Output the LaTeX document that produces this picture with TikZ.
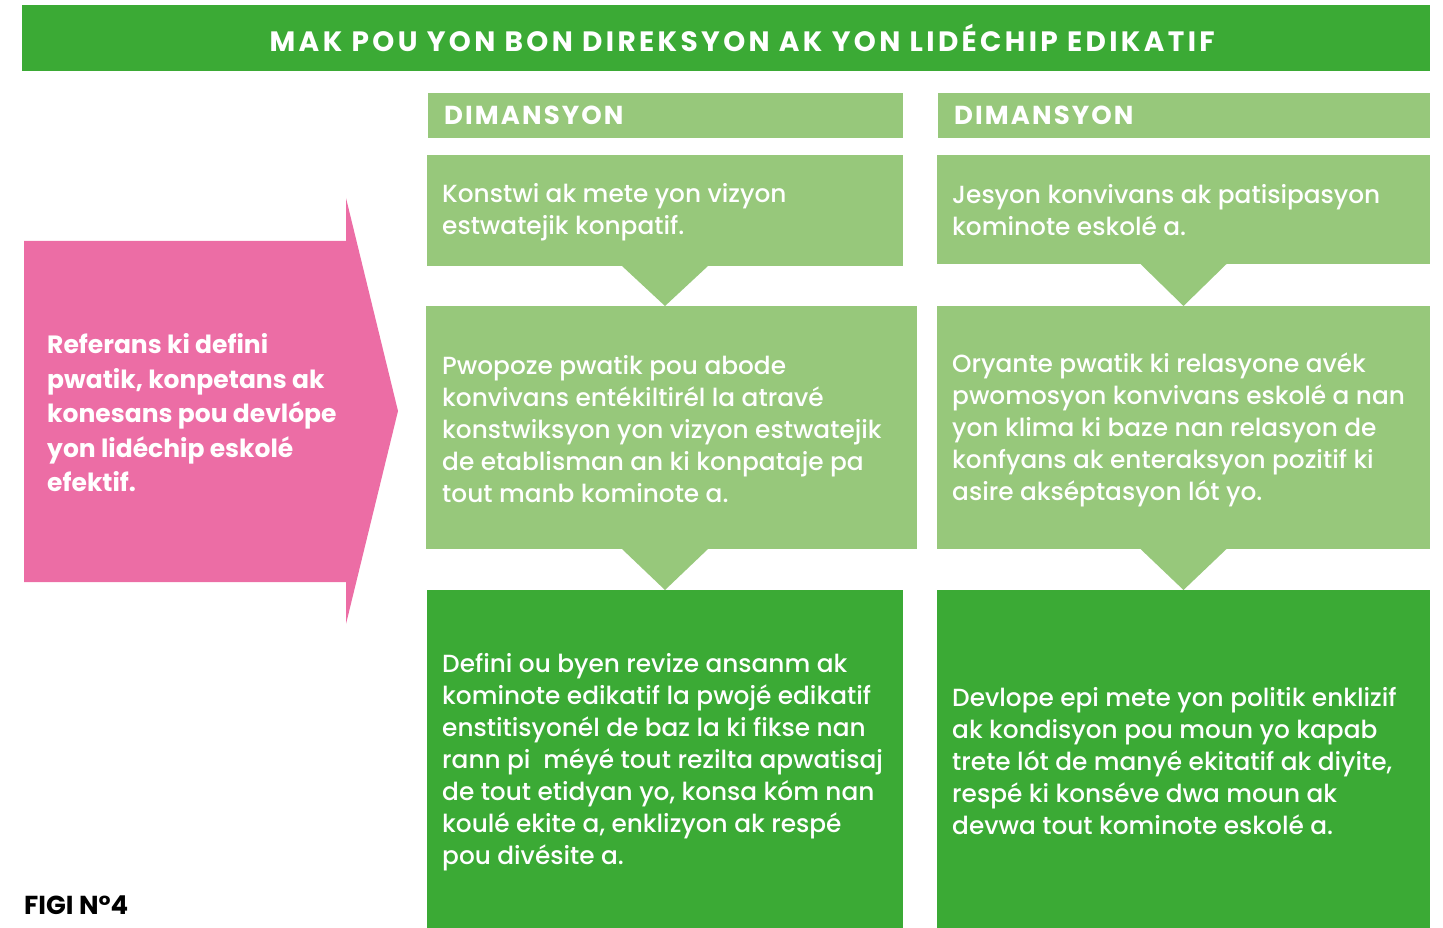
\documentclass[tikz,border=0pt]{standalone}
\usepackage{fontspec}
\setmainfont{Poppins}[UprightFont=*-Medium,BoldFont=*-Bold]
\newfontfamily\titlefont[LetterSpace=12,UprightFont=*-Medium,BoldFont=*-Bold]{Poppins}
\newfontfamily\capsfont[LetterSpace=8,UprightFont=*-Medium,BoldFont=*-Bold]{Poppins}
\usepackage{tikz}
\usetikzlibrary{positioning}

\definecolor{darkgreen}{RGB}{59,170,53}
\definecolor{lightgreen}{RGB}{151,200,123}
\definecolor{rosepink}{RGB}{236,109,165}

\begin{document}
\begin{tikzpicture}[x=1pt,y=-1pt,
  box/.style={anchor=north west,inner sep=0pt,outer sep=0pt},
  lightbox/.style={box,fill=lightgreen},
  darkbox/.style={box,fill=darkgreen},
  boxtext/.style={anchor=west,inner sep=0pt,align=left,text=white,
    font=\fontsize{24.8}{32}\selectfont},
  header/.style={anchor=north west,fill=lightgreen,inner xsep=16pt,inner ysep=0pt,
    text=white,font=\capsfont\bfseries\fontsize{26}{30}\selectfont,
    minimum height=45pt,text depth=0pt},
  pointer/.style={fill=lightgreen}]
  \useasboundingbox (0,0) rectangle (1443,928);
  % title bar
  \node[anchor=north west,fill=darkgreen,minimum width=1408pt,minimum height=66pt,
    inner sep=0pt] (title) at (22,5) {};
  \node[text=white,inner sep=0pt,font=\titlefont\bfseries\fontsize{28}{32}\selectfont]
    (titletext) at ([xshift=16pt]title.center) {MAK POU YON BON DIREKSYON AK YON LIDÉCHIP EDIKATIF};
  % headers
  \node[header,minimum width=475pt,text width=443pt] (dimA) at (428,93) {DIMANSYON};
  \node[header,minimum width=492pt,text width=460pt] (dimB) at (938,93) {DIMANSYON};
  % left column
  \node[lightbox,minimum width=476pt,minimum height=111pt] (konstwi) at (427,155) {};
  \node[lightbox,minimum width=491pt,minimum height=243pt] (pwopoze) at (426,306) {};
  \node[darkbox,minimum width=476pt,minimum height=338pt] (defini) at (427,590) {};
  % right column
  \node[lightbox,minimum width=493pt,minimum height=109pt] (jesyon) at (937,155) {};
  \node[lightbox,minimum width=493pt,minimum height=243pt] (oryante) at (937,306) {};
  \node[darkbox,minimum width=493pt,minimum height=338pt] (devlope) at (937,590) {};
  % texts in boxes
  \node[boxtext] (konstwitext) at ([xshift=15pt,yshift=-2pt]konstwi.west)
    {Konstwi ak mete yon vizyon\\estwatejik konpatif.};
  \node[boxtext] (pwopozetext) at ([xshift=16pt,yshift=-2pt]pwopoze.west)
    {Pwopoze pwatik pou abode\\konvivans entékiltirél la atravé\\konstwiksyon yon vizyon estwatejik\\de etablisman an ki konpataje pa\\tout manb kominote a.};
  \node[boxtext] (definitext) at ([xshift=15pt,yshift=-3pt]defini.west)
    {Defini ou byen revize ansanm ak\\kominote edikatif la pwojé edikatif\\enstitisyonél de baz la ki fikse nan\\rann pi\ \ méyé tout rezilta apwatisaj\\de tout etidyan yo, konsa kóm nan\\koulé ekite a, enklizyon ak respé\\pou divésite a.};
  \node[boxtext] (jesyontext) at ([xshift=15pt,yshift=-1pt]jesyon.west)
    {Jesyon konvivans ak patisipasyon\\kominote eskolé a.};
  \node[boxtext] (oryantetext) at ([xshift=15pt,yshift=-2pt]oryante.west)
    {Oryante pwatik ki relasyone avék\\pwomosyon konvivans eskolé a nan\\yon klima ki baze nan relasyon de\\konfyans ak enteraksyon pozitif ki\\asire akséptasyon lót yo.};
  \node[boxtext] (devlopetext) at ([xshift=15pt,yshift=-2pt]devlope.west)
    {Devlope epi mete yon politik enklizif\\ak kondisyon pou moun yo kapab\\trete lót de manyé ekitatif ak diyite,\\respé ki konséve dwa moun ak\\devwa tout kominote eskolé a.};
  % pointers between boxes
  \fill[pointer] ([xshift=-43pt]konstwi.south) -- ([xshift=43pt]konstwi.south)
    -- (konstwi.south |- pwopoze.north) -- cycle;
  \fill[pointer] ([xshift=-43pt]defini.north |- pwopoze.south) -- ([xshift=43pt]defini.north |- pwopoze.south)
    -- (defini.north) -- cycle;
  \fill[pointer] ([xshift=-43pt]jesyon.south) -- ([xshift=43pt]jesyon.south)
    -- (jesyon.south |- oryante.north) -- cycle;
  \fill[pointer] ([xshift=-43pt]devlope.north |- oryante.south) -- ([xshift=43pt]devlope.north |- oryante.south)
    -- (devlope.north) -- cycle;
  % pink arrow
  \fill[rosepink] (24,241) -- (346,241) -- (346,198) -- (398,411) -- (346,624)
    -- (346,582) -- (24,582) -- cycle;
  \node[anchor=west,align=left,inner sep=0pt,text=white,
    font=\bfseries\fontsize{25}{34.5}\selectfont] (referans) at (47,413)
    {Referans ki defini\\pwatik, konpetans ak\\konesans pou devlópe\\yon lidéchip eskolé\\efektif.};
  % caption
  \node[anchor=west,inner sep=0pt,font=\bfseries\fontsize{26}{28}\selectfont] (figi) at (24,905)
    {FIGI N°4};
\end{tikzpicture}
\end{document}
